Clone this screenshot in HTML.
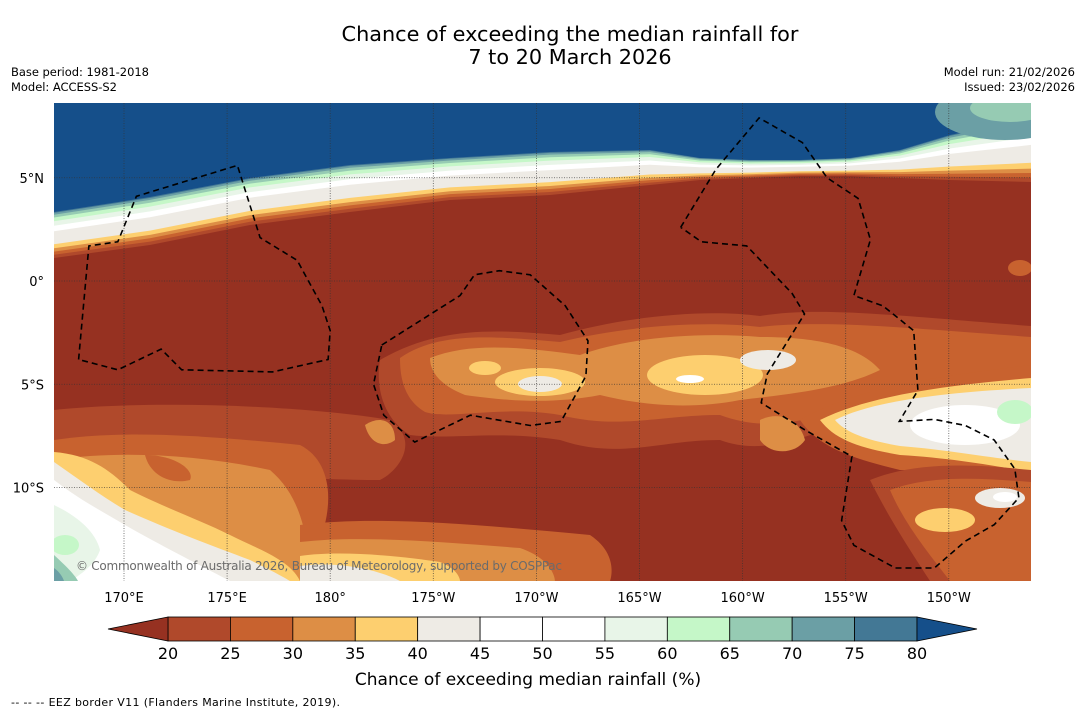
<!DOCTYPE html>
<html><head><meta charset="utf-8">
<style>
body{margin:0;background:#fff;width:1085px;height:713px;overflow:hidden;font-family:"DejaVu Sans","Liberation Sans",sans-serif;}
svg{display:block;font-family:"DejaVu Sans","Liberation Sans",sans-serif;}
</style></head>
<body>
<svg id="chart" width="1085" height="713" xmlns="http://www.w3.org/2000/svg">
<text x="570" y="41" font-size="20.8" text-anchor="middle" fill="#000">Chance of exceeding the median rainfall for</text>
<text x="570" y="64" font-size="20.8" text-anchor="middle" fill="#000">7 to 20 March 2026</text>
<text x="11" y="76" font-size="11.5" textLength="138">Base period: 1981-2018</text>
<text x="11" y="91" font-size="11.5" textLength="106">Model: ACCESS-S2</text>
<text x="1075" y="76" font-size="11.5" text-anchor="end">Model run: 21/02/2026</text>
<text x="1075" y="91" font-size="11.5" text-anchor="end">Issued: 23/02/2026</text>
<defs><clipPath id="mapclip"><rect x="54" y="103" width="977" height="478"/></clipPath></defs>
<g id="map" clip-path="url(#mapclip)">
<rect x="54" y="103" width="977" height="478" fill="#963121"/>
<g id="topbands"></g>
<ellipse cx="1005" cy="112" rx="70" ry="28" fill="#6b9fa5"/>
<ellipse cx="1010" cy="108" rx="40" ry="14" fill="#96cbb3"/>
<path fill="#b0492b" d="M54,410 C150,400 300,405 390,420 C420,440 400,470 380,480 C300,480 150,470 54,460Z"/>
<path fill="#c8622f" d="M54,440 C120,430 200,435 300,445 C330,460 335,500 320,540 C300,581 200,581 54,581Z"/>
<path fill="#dd8e45" d="M54,460 C120,450 200,455 270,470 C305,500 305,540 315,581 L54,581Z"/>
<path fill="#c8622f" d="M145,455 C175,455 195,470 190,480 C170,485 150,475 145,455Z"/>
<path fill="#fdcf6f" d="M54,452 C90,455 110,470 130,490 C170,510 200,520 230,535 C260,550 290,560 300,581 L54,581Z"/>
<path fill="#eeebe5" d="M54,462 C80,480 100,495 125,510 C170,530 210,545 250,560 C270,570 280,575 290,581 L54,581Z"/>
<path fill="#ffffff" d="M54,480 C80,500 100,510 125,525 C160,545 190,560 230,581 L54,581Z"/>
<path fill="#e8f5e8" d="M54,505 C75,515 95,530 100,550 C95,565 80,575 70,581 L54,581Z"/>
<ellipse cx="65" cy="545" rx="14" ry="10" fill="#c5f7c8"/>
<path fill="#96cbb3" d="M54,555 C65,565 75,575 78,581 L54,581Z"/>
<path fill="#6b9fa5" d="M54,568 C60,572 63,578 64,581 L54,581Z"/>
<path fill="#c8622f" d="M300,525 C380,515 480,525 590,535 C620,555 610,581 610,581 L300,581Z"/>
<path fill="#dd8e45" d="M300,542 C360,535 440,542 520,548 C555,560 555,581 555,581 L300,581Z"/>
<path fill="#fdcf6f" d="M300,556 C340,550 400,556 440,562 C460,570 460,581 460,581 L300,581Z"/>
<path fill="#eeebe5" d="M300,566 C330,562 370,566 400,581 L300,581Z"/>
<path fill="#b0492b" d="M380,360 C440,325 500,330 560,335 C620,318 700,308 760,316 C820,306 900,316 1031,326 L1031,405 C950,405 900,425 850,420 C800,440 760,455 720,440 C660,440 620,460 560,440 C500,430 450,440 410,435 C385,420 375,390 380,360Z"/>
<path fill="#c8622f" d="M400,358 C440,330 500,337 560,342 C620,327 700,320 760,327 C820,320 900,327 1031,337 L1031,395 C950,395 900,415 850,405 C800,425 760,430 720,415 C660,415 620,430 560,415 C500,405 450,420 425,412 C405,400 400,380 400,358Z"/>
<path fill="#dd8e45" d="M430,358 C470,342 520,347 580,355 C630,337 700,332 760,337 C820,337 860,347 880,370 C840,390 780,395 740,400 C690,410 640,405 600,395 C550,405 500,400 465,395 C440,385 430,372 430,358Z"/>
<path fill="#dd8e45" d="M365,425 C380,415 395,420 395,440 C385,448 370,445 365,425Z"/>
<path fill="#dd8e45" d="M760,420 C780,410 800,420 805,440 C795,455 770,455 760,440Z"/>
<ellipse cx="540" cy="382" rx="45" ry="14" fill="#fdcf6f"/>
<ellipse cx="485" cy="368" rx="16" ry="7" fill="#fdcf6f"/>
<ellipse cx="705" cy="375" rx="58" ry="20" fill="#fdcf6f"/>
<ellipse cx="540" cy="384" rx="22" ry="8" fill="#eeebe5"/>
<ellipse cx="768" cy="360" rx="28" ry="10" fill="#eeebe5"/>
<ellipse cx="690" cy="379" rx="14" ry="4" fill="#ffffff"/>
<path fill="#c8622f" d="M800,420 C860,385 950,375 1031,365 L1031,480 C990,480 950,470 900,470 C860,460 820,450 800,420Z"/>
<path fill="#fdcf6f" d="M820,420 C870,395 950,385 1031,378 L1031,472 C990,465 950,458 900,455 C860,448 835,440 820,420Z"/>
<path fill="#eeebe5" d="M835,420 C875,400 950,392 1031,388 L1031,462 C990,458 950,450 900,446 C865,440 845,432 835,420Z"/>
<ellipse cx="965" cy="425" rx="55" ry="20" fill="#ffffff"/>
<ellipse cx="1015" cy="412" rx="18" ry="12" fill="#c5f7c8"/>
<path fill="#b0492b" d="M870,480 C920,460 980,465 1031,470 L1031,581 L930,581 C910,550 890,520 870,480Z"/>
<path fill="#c8622f" d="M890,490 C930,475 980,478 1031,482 L1031,581 L950,581 C930,555 905,525 890,490Z"/>
<ellipse cx="945" cy="520" rx="30" ry="12" fill="#fdcf6f"/>
<ellipse cx="1000" cy="498" rx="25" ry="10" fill="#eeebe5"/>
<ellipse cx="1005" cy="497" rx="12" ry="5" fill="#ffffff"/>
<ellipse cx="1020" cy="268" rx="12" ry="8" fill="#c8622f"/>
<g id="grid" stroke="#333" stroke-width="0.8" stroke-dasharray="1,1.5" opacity="0.8"></g>
<g id="eez" fill="none" stroke="#000" stroke-width="1.6" stroke-dasharray="6,4"></g>
<text x="76" y="570" font-size="12" fill="#6b6b6b" textLength="486">© Commonwealth of Australia 2026, Bureau of Meteorology, supported by COSPPac</text>
</g>
<g id="axes"></g>
<g id="colorbar"></g>
<text x="528" y="685" font-size="17" text-anchor="middle">Chance of exceeding median rainfall (%)</text>
<text x="11" y="706" font-size="11" textLength="329">--  --  -- EEZ border V11 (Flanders Marine Institute, 2019).</text>
</svg>
<script>
const lonTicks=[170,175,180,185,190,195,200,205,210];
const lonLabels=["170°E","175°E","180°","175°W","170°W","165°W","160°W","155°W","150°W"];
const latTicks=[5,0,-5,-10];
const latLabels=["5°N","0°","5°S","10°S"];
const levels=[20,25,30,35,40,45,50,55,60,65,70,75,80];
const levelColors=["#b0492b","#c8622f","#dd8e45","#fdcf6f","#eeebe5","#ffffff","#ffffff","#e8f5e8","#c5f7c8","#96cbb3","#6b9fa5","#437895"];
const underColor="#963121", overColor="#154f8a";
const eez1=[[167.8,-3.8],[168.3,1.7],[169.7,1.9],[170.6,4.1],[175.5,5.6],[176.6,2.1],[178.4,1.0],[179.6,-1.2],[180.0,-2.4],[179.9,-3.8],[177.2,-4.4],[172.8,-4.3],[171.8,-3.3],[169.7,-4.3],[167.8,-3.8]];
const eez2=[[182.5,-3.1],[186.3,-0.7],[187.0,0.3],[188.2,0.5],[189.7,0.3],[191.4,-1.2],[192.5,-2.9],[192.4,-4.6],[191.2,-6.8],[189.7,-7.0],[186.8,-6.5],[184.1,-7.8],[182.6,-6.5],[182.1,-5.0],[182.5,-3.1]];
const eez3=[[197.0,2.6],[198.7,5.4],[200.8,7.9],[202.9,6.7],[204.1,5.0],[205.6,4.0],[206.2,2.0],[205.4,-0.7],[206.8,-1.2],[208.3,-2.4],[208.5,-5.3],[207.6,-6.8],[209.3,-6.7],[210.8,-7.0],[212.2,-7.7],[213.2,-9.1],[213.4,-10.5],[212.2,-11.8],[210.8,-12.6],[209.3,-13.9],[207.4,-13.9],[205.4,-12.8],[204.8,-11.6],[205.3,-8.5],[203.0,-7.2],[200.9,-5.9],[201.2,-4.5],[203.0,-1.6],[202.4,-0.6],[200.2,1.7],[198.0,1.9],[197.0,2.6]];
const NS="http://www.w3.org/2000/svg";
const X=lon=>124+(lon-170)*20.62;
const Y=lat=>281-lat*20.65;
function mk(tag,attrs,parent){const e=document.createElementNS(NS,tag);for(const k in attrs)e.setAttribute(k,attrs[k]);parent.appendChild(e);return e;}
const bx=[54,150,250,350,450,550,650,700,750,800,850,900,950,1031];
const bb=[212,197,178,165,158,152,150,158,160,160,158,150,135,118];
const bt=[258,245,225,212,200,195,185,180,178,176,176,178,180,182];
const bandFrac=[1.0,0.93,0.86,0.79,0.7,0.42,0.3,0.2,0.12,0.06,0.02];
const bandCol=["#b0492b","#c8622f","#dd8e45","#fdcf6f","#eeebe5","#ffffff","#e8f5e8","#c5f7c8","#96cbb3","#6b9fa5","#437895"];
const tb=document.getElementById('topbands');
function bandPath(f){let d="M54,103";for(let i=0;i<bx.length;i++){d+=" L"+bx[i]+","+(bb[i]+(bt[i]-bb[i])*f).toFixed(1);}return d+" L1031,103Z";}
bandFrac.forEach((f,i)=>{const p=mk('path',{d:bandPath(f),fill:bandCol[i]},tb);

});
const bl=mk('path',{d:bandPath(0),fill:overColor},tb);


const g=document.getElementById('grid');
lonTicks.forEach(l=>{const ln=mk('line',{x1:X(l),x2:X(l),y1:103,y2:581},g);

});
latTicks.forEach(l=>{const ln=mk('line',{x1:54,x2:1031,y1:Y(l),y2:Y(l)},g);

});
const ez=document.getElementById('eez');
[eez1,eez2,eez3].forEach(arr=>{const pl=mk('polyline',{points:arr.map(p=>X(p[0]).toFixed(1)+","+Y(p[1]).toFixed(1)).join(" ")},ez);

});
const ax=document.getElementById('axes');
lonTicks.forEach((l,i)=>{const t=mk('text',{x:X(l),y:602,'font-size':13,'text-anchor':'middle'},ax);t.textContent=lonLabels[i];

});
latTicks.forEach((l,i)=>{const t=mk('text',{x:44,y:Y(l)+5,'font-size':13,'text-anchor':'end'},ax);t.textContent=latLabels[i];

});
const cb=document.getElementById('colorbar');
const c0=168,c1=917,cy=617,ch=24,w=(c1-c0)/levelColors.length;
const CX=v=>c0+(v-levels[0])/(levels[levels.length-1]-levels[0])*(c1-c0);
levelColors.forEach((c,i)=>{const r=mk('rect',{x:CX(levels[i]),y:cy,width:w,height:ch,fill:c,stroke:'#000','stroke-width':0.8},cb);

});
const tl=mk('polygon',{points:`${c0},${cy} ${c0-60},${cy+ch/2} ${c0},${cy+ch}`,fill:underColor,stroke:'#000','stroke-width':0.8},cb);


const tr=mk('polygon',{points:`${c1},${cy} ${c1+60},${cy+ch/2} ${c1},${cy+ch}`,fill:overColor,stroke:'#000','stroke-width':0.8},cb);


levels.forEach(v=>{const t=mk('text',{x:CX(v),y:659,'font-size':16,'text-anchor':'middle'},cb);t.textContent=v;

});
</script>
</body></html>
